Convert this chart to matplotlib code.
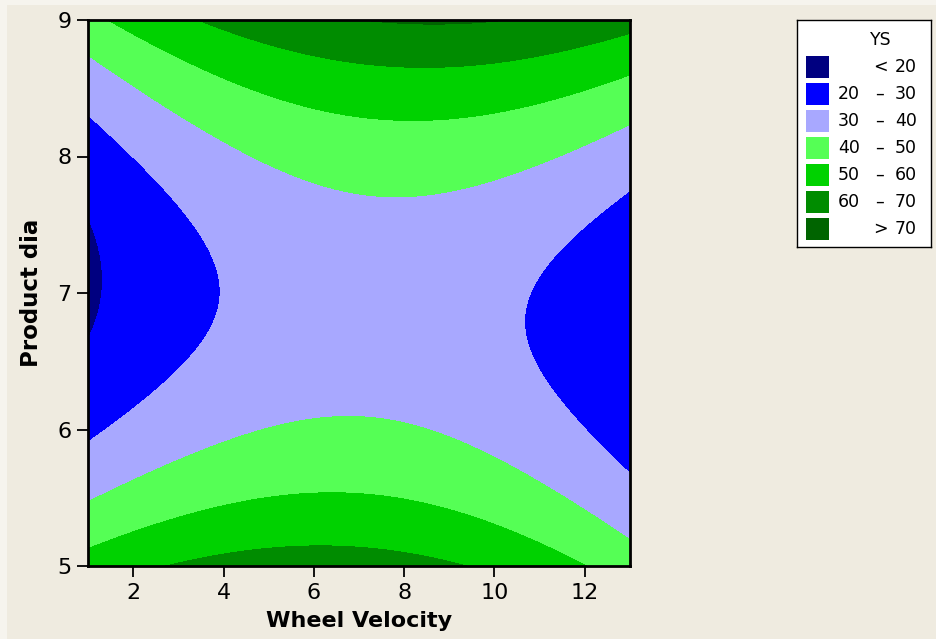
import matplotlib
matplotlib.use("Agg")
import matplotlib.pyplot as plt
from matplotlib.patches import Rectangle
import numpy as np

# Contour levels and fill colours (Minitab style)
levels = [20, 30, 40, 50, 60, 70]
fill_colors = ["#000080", "#0000FF", "#A8A8FF", "#55FF55", "#00D200", "#008C00", "#006400"]

# Points: (Wheel Velocity, Product dia) per level
bound_20 = [(1.0, 7.57), (1.26, 7.39), (1.35, 7.10), (1.30, 6.90), (1.0, 6.63)]
bound_30 = [(1.0, 8.30), (1.59, 8.13), (2.29, 7.89), (3.03, 7.61), (3.77, 7.29),
            (3.99, 7.00), (3.84, 6.80), (3.54, 6.63), (2.73, 6.34), (1.77, 6.09),
            (1.0, 5.93), (13.0, 7.74), (12.17, 7.53), (11.29, 7.27), (10.77, 7.00),
            (10.64, 6.78), (10.92, 6.48), (11.44, 6.24), (12.17, 5.95), (13.0, 5.70)]
bound_40 = [(1.0, 8.72), (2.40, 8.44), (3.25, 8.24), (4.36, 8.05), (5.31, 7.89),
            (6.64, 7.75), (7.45, 7.72), (8.93, 7.74), (10.40, 7.89), (11.87, 8.06),
            (13.0, 8.22), (1.0, 5.47), (2.0, 5.61), (3.58, 5.85), (5.16, 6.02),
            (6.72, 6.10), (8.32, 6.02), (9.29, 5.90), (10.30, 5.76), (11.88, 5.40),
            (13.0, 5.20)]
bound_50 = [(1.52, 9.0), (2.40, 8.83), (3.58, 8.61), (5.24, 8.38), (6.72, 8.28),
            (8.40, 8.24), (9.67, 8.32), (11.14, 8.41), (13.0, 8.60), (1.0, 5.18),
            (2.0, 5.22), (3.58, 5.41), (5.16, 5.51), (6.35, 5.54), (8.32, 5.47),
            (10.30, 5.27), (12.03, 5.0)]
bound_60 = [(3.50, 9.0), (4.77, 8.88), (6.19, 8.70), (8.40, 8.63), (10.30, 8.69),
            (11.88, 8.83), (13.0, 8.90), (2.79, 5.0), (4.92, 5.13), (5.95, 5.14),
            (6.74, 5.14), (8.71, 5.06), (9.35, 5.0)]
bound_70 = [(7.2, 9.0), (8.55, 8.97), (10.1, 9.0)]

xticks = [2, 4, 6, 8, 10, 12]
yticks = [5, 6, 7, 8, 9]

# Fit a full quadratic response surface through the boundary points
rows, targets = [], []
for lev, pts in zip(levels, [bound_20, bound_30, bound_40, bound_50, bound_60, bound_70]):
    for px, py in pts:
        rows.append([1, px, py, px * px, py * py, px * py])
        targets.append(lev)
coef = np.linalg.lstsq(np.array(rows, float), np.array(targets, float), rcond=None)[0]

gx = np.linspace(1, 13, 400)
gy = np.linspace(5, 9, 400)
X, Y = np.meshgrid(gx, gy)
Z = coef[0] + coef[1] * X + coef[2] * Y + coef[3] * X**2 + coef[4] * Y**2 + coef[5] * X * Y

bg = "#EFEBE0"
fig = plt.figure(figsize=(9.36, 6.39), dpi=100)
fig.patch.set_facecolor("#F6F4EE")
fig.patches.append(Rectangle((7 / 936, 0), 1, 1 - 5 / 639, transform=fig.transFigure,
                             facecolor=bg, edgecolor="none", zorder=-10))

ax = fig.add_axes([88 / 936, 1 - 566 / 639, (630 - 88) / 936, (566 - 20) / 639])
ax.contourf(X, Y, Z, levels=[-1e4] + levels + [1e4], colors=fill_colors)
ax.set_xlim(1, 13)
ax.set_ylim(5, 9)
ax.set_xticks(xticks)
ax.set_yticks(yticks)
ax.tick_params(direction="out", length=8, width=1.3, labelsize=16, pad=4)
for s in ax.spines.values():
    s.set_linewidth(2)
ax.set_xlabel("Wheel Velocity", fontsize=16, fontweight="bold", labelpad=6)
ax.set_ylabel("Product dia", fontsize=16.5, fontweight="bold", labelpad=10)

# Legend box drawn in pixel coordinates
lg = fig.add_axes([797 / 936, 1 - 247 / 639, (931 - 797) / 936, (247 - 20) / 639])
lg.set_xlim(797, 931)
lg.set_ylim(247, 20)
lg.set_xticks([])
lg.set_yticks([])
lg.set_facecolor("white")
for s in lg.spines.values():
    s.set_linewidth(1)
fs = 12.5
lg.text(881, 40, "YS", ha="center", va="center", fontsize=fs)
for i, col in enumerate(fill_colors):
    cy = 66.5 + 27.1 * i
    lg.add_patch(Rectangle((806, cy - 11), 23, 22, facecolor=col, edgecolor="none"))
    if i == 0:
        lg.text(880, cy, "<", ha="center", va="center", fontsize=fs)
        lg.text(917, cy, str(levels[0]), ha="right", va="center", fontsize=fs)
    elif i == len(fill_colors) - 1:
        lg.text(880, cy, ">", ha="center", va="center", fontsize=fs)
        lg.text(917, cy, str(levels[-1]), ha="right", va="center", fontsize=fs)
    else:
        lg.text(860, cy, str(levels[i - 1]), ha="right", va="center", fontsize=fs)
        lg.text(880, cy, "\u2013", ha="center", va="center", fontsize=fs)
        lg.text(917, cy, str(levels[i]), ha="right", va="center", fontsize=fs)

fig.savefig("out.png", dpi=100, facecolor=fig.get_facecolor())
